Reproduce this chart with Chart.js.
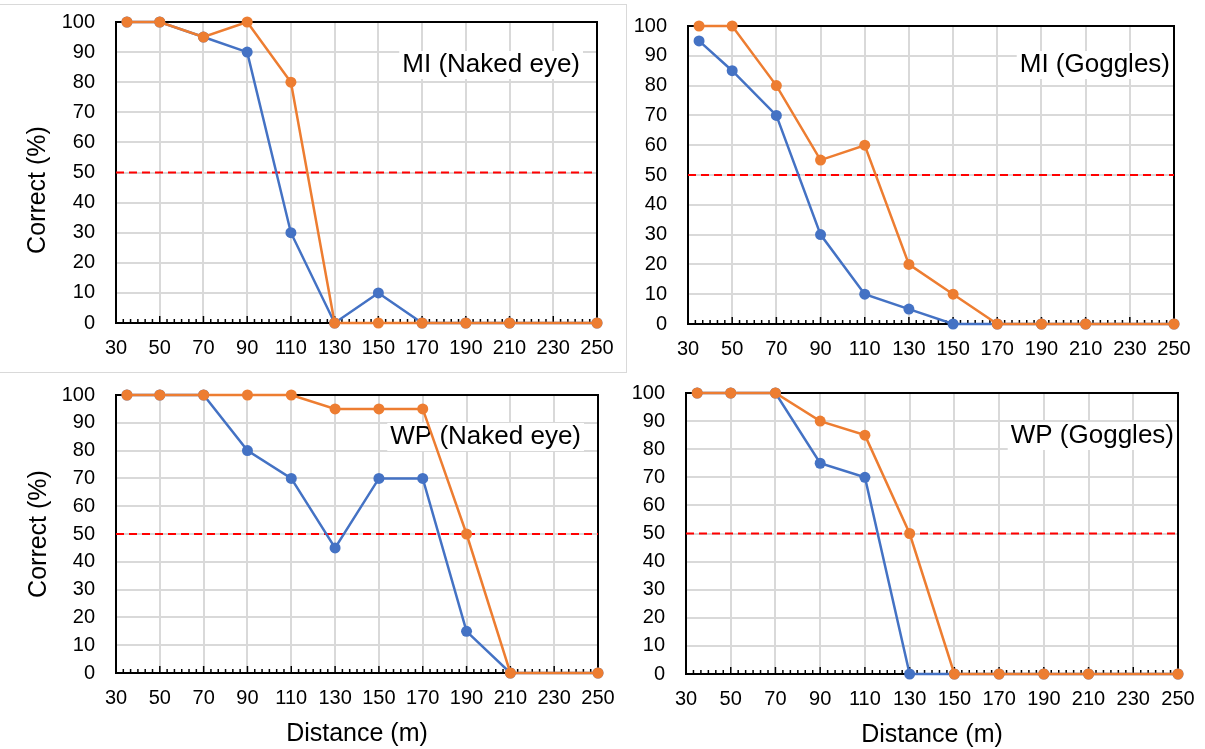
<!DOCTYPE html>
<html>
<head>
  <title>Correct (%) vs Distance (m)</title>
  <style>
    body { margin: 0; background: #fff; }
    #wrap { position: relative; width: 1205px; height: 749px; overflow: hidden; }
    .panel { position: absolute; }
    .frame { position: absolute; left: -2px; top: 4px; width: 627px; height: 367px; border: 1px solid #d9d9d9; }
  </style>
</head>
<body>
  <div id="wrap">
    <div class="frame"></div>
    <canvas id="c1" class="panel" width="620" height="372" style="left:0px;top:0px"></canvas>
    <canvas id="c2" class="panel" width="577" height="372" style="left:628px;top:0px"></canvas>
    <canvas id="c3" class="panel" width="620" height="374" style="left:0px;top:375px"></canvas>
    <canvas id="c4" class="panel" width="577" height="374" style="left:628px;top:375px"></canvas>
  </div>

  <script src="https://cdn.jsdelivr.net/npm/chart.js"></script>
  <script>
    // distances (m) and percent correct
    const distances = [35, 50, 70, 90, 110, 130, 150, 170, 190, 210, 250];

    const miNakedBlue   = [100, 100, 95, 90, 30, 0, 10, 0, 0, 0, 0];
    const miNakedOrange = [100, 100, 95, 100, 80, 0, 0, 0, 0, 0, 0];

    const miGogglesBlue   = [95, 85, 70, 30, 10, 5, 0, 0, 0, 0, 0];
    const miGogglesOrange = [100, 100, 80, 55, 60, 20, 10, 0, 0, 0, 0];

    const wpNakedBlue   = [100, 100, 100, 80, 70, 45, 70, 70, 15, 0, 0];
    const wpNakedOrange = [100, 100, 100, 100, 100, 95, 95, 95, 50, 0, 0];

    const wpGogglesBlue   = [100, 100, 100, 75, 70, 0, 0, 0, 0, 0, 0];
    const wpGogglesOrange = [100, 100, 100, 90, 85, 50, 0, 0, 0, 0, 0];

    const threshold = 50;
    const xMin = 30, xMax = 250, xStep = 20;
    const yMin = 0, yMax = 100, yStep = 10;

    const BLUE = '#4472C4';
    const ORANGE = '#ED7D31';
    const FONT = '"Liberation Sans", Arial, sans-serif';

    // white text box, minor ticks, black frame and y title
    const panelExtras = {
      id: 'panelExtras',
      beforeDatasetsDraw(chart, args, opts) {
        const ctx = chart.ctx;
        const a = chart.chartArea;
        const xs = chart.scales.x;
        ctx.save();

        if (opts.label) {
          ctx.font = '26px ' + FONT;
          const w = ctx.measureText(opts.label.text).width;
          ctx.fillStyle = '#fff';
          ctx.fillRect(opts.label.right - w - 3, opts.label.y - 14, w + 6, 28);
          ctx.fillStyle = '#000';
          ctx.textAlign = 'right';
          ctx.textBaseline = 'middle';
          ctx.fillText(opts.label.text, opts.label.right, opts.label.y);
        }

        // minor tick marks, six per major step, pointing inwards
        ctx.strokeStyle = '#000';
        ctx.lineWidth = 1.5;
        const n = Math.round((xMax - xMin) / xStep * 6);
        for (let i = 0; i <= n; i++) {
          const px = xs.getPixelForValue(xMin + i * xStep / 6);
          const len = i % 6 === 0 ? 7 : 4;
          ctx.beginPath();
          ctx.moveTo(px, a.bottom);
          ctx.lineTo(px, a.bottom - len);
          ctx.stroke();
        }

        ctx.lineWidth = 2;
        ctx.strokeRect(a.left, a.top, a.right - a.left, a.bottom - a.top);

        if (opts.yTitle) {
          ctx.translate(opts.yTitle.x, opts.yTitle.y);
          ctx.rotate(-Math.PI / 2);
          ctx.font = '25px ' + FONT;
          ctx.fillStyle = '#000';
          ctx.textAlign = 'center';
          ctx.textBaseline = 'middle';
          ctx.fillText('Correct (%)', 0, 0);
        }
        ctx.restore();
      }
    };

    function points(values) {
      return distances.map((d, i) => ({ x: d, y: values[i] }));
    }

    function series(values, color, order) {
      return {
        data: points(values),
        borderColor: color,
        backgroundColor: color,
        borderWidth: 2.5,
        pointRadius: 5.5,
        pointHoverRadius: 5.5,
        pointBorderWidth: 0,
        tension: 0,
        clip: false,
        order: order
      };
    }

    // p.area: wanted plot rectangle in canvas coords
    function renderPanel(id, p) {
      const yW = 58;
      const xH = p.xTitle ? 76 : 40;
      const ctx = document.getElementById(id).getContext('2d');
      new Chart(ctx, {
        type: 'line',
        data: {
          datasets: [
            series(p.orange, ORANGE, 1),
            series(p.blue, BLUE, 2),
            {
              data: [{ x: xMin, y: threshold }, { x: xMax, y: threshold }],
              borderColor: '#FF0000',
              borderWidth: 2,
              borderDash: [8, 5],
              pointRadius: 0,
              order: 3
            }
          ]
        },
        options: {
          responsive: false,
          animation: false,
          devicePixelRatio: 1,
          layout: {
            autoPadding: false,
            padding: {
              left: p.area.left - yW,
              top: p.area.top,
              right: p.width - p.area.right,
              bottom: p.height - p.area.bottom - xH
            }
          },
          plugins: {
            legend: { display: false },
            tooltip: { enabled: false },
            panelExtras: { label: p.label, yTitle: p.yTitle }
          },
          scales: {
            x: {
              type: 'linear',
              min: xMin,
              max: xMax,
              afterFit: s => { s.height = xH; },
              ticks: { stepSize: xStep, autoSkip: false, maxRotation: 0, padding: 0, color: '#000', font: { size: 20, family: FONT } },
              grid: { color: '#d9d9d9', lineWidth: 2, drawTicks: true, tickLength: 13, tickColor: 'rgba(0,0,0,0)' },
              border: { display: false },
              title: {
                display: !!p.xTitle,
                text: 'Distance (m)',
                color: '#000',
                font: { size: 25, family: FONT },
                padding: { top: 0, bottom: 0 }
              }
            },
            y: {
              min: yMin,
              max: yMax,
              afterFit: s => { s.width = yW; },
              ticks: { stepSize: yStep, autoSkip: false, padding: 0, color: '#000', font: { size: 20, family: FONT } },
              grid: { color: '#d9d9d9', lineWidth: 2, drawTicks: true, tickLength: 21, tickColor: 'rgba(0,0,0,0)' },
              border: { display: false }
            }
          }
        },
        plugins: [panelExtras]
      });
    }

    renderPanel('c1', {
      width: 620, height: 372,
      area: { left: 116, top: 22, right: 597, bottom: 323 },
      blue: miNakedBlue, orange: miNakedOrange,
      label: { text: 'MI (Naked eye)', right: 580, y: 65 },
      yTitle: { x: 38, y: 190 }
    });
    renderPanel('c2', {
      width: 577, height: 372,
      area: { left: 60, top: 26, right: 546, bottom: 324 },
      blue: miGogglesBlue, orange: miGogglesOrange,
      label: { text: 'MI (Goggles)', right: 542, y: 65 }
    });
    renderPanel('c3', {
      width: 620, height: 374,
      area: { left: 116, top: 20, right: 598, bottom: 298 },
      blue: wpNakedBlue, orange: wpNakedOrange,
      label: { text: 'WP (Naked eye)', right: 581, y: 62 },
      yTitle: { x: 39, y: 159 },
      xTitle: true
    });
    renderPanel('c4', {
      width: 577, height: 374,
      area: { left: 58, top: 18, right: 550, bottom: 299 },
      blue: wpGogglesBlue, orange: wpGogglesOrange,
      label: { text: 'WP (Goggles)', right: 546, y: 61 },
      xTitle: true
    });
  </script>
</body>
</html>
